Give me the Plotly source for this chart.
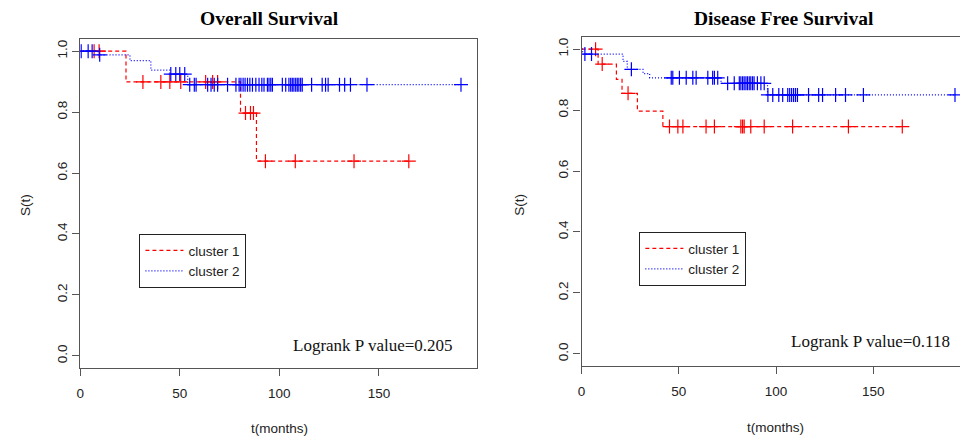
import numpy as np
import plotly.graph_objects as go

# ---------------- data ----------------
# Overall survival
os_c1_times = [0, 23, 80.5, 88.5]
os_c1_surv = [1.0, 0.899, 0.797, 0.639]
os_c1_end = 165
os_c1_censor = [7, 9.5, 31.5, 40.5, 45, 50.5, 63, 66.5, 69, 83, 85.5, 87, 93, 108, 137.5, 165]

os_c2_times = [0, 9, 25, 35.5, 45, 54]
os_c2_surv = [1.0, 0.988, 0.969, 0.938, 0.925, 0.89]
os_c2_end = 191.2
os_c2_censor = [0.5, 4, 6, 9.8, 45.5, 48, 50, 52.5, 55, 57.3, 58.2, 64, 65.7, 67.3, 69, 74,
                78.2, 79.8, 80.7, 81.8, 82.8, 84, 85.2, 86.5, 88.2, 89.8, 91.2, 92.3, 94,
                94.8, 95.7, 96.5, 101.5, 103.2, 104.8, 105.7, 106.5, 107.3, 108.2, 109,
                109.8, 110.7, 111.5, 116.2, 121.5, 123.2, 124.5, 130.2, 132.8, 135.7, 144, 191.2]

# Disease free survival
dfs_c1_times = [0, 8.5, 17.9, 20.8, 28.7, 41.8]
dfs_c1_surv = [1.0, 0.951, 0.901, 0.855, 0.797, 0.746]
dfs_c1_end = 164.9
dfs_c1_censor = [7.2, 10.6, 23.9, 45.2, 49.5, 52.1, 64, 68.3, 81.9, 82.8, 83.6, 87, 93.9,
                 108.5, 137.2, 164.9]

dfs_c2_times = [0, 0.5, 21.3, 23.5, 31.6, 35, 71.7, 95.6]
dfs_c2_surv = [1.0, 0.984, 0.96, 0.934, 0.92, 0.906, 0.888, 0.85]
dfs_c2_end = 192
dfs_c2_censor = [1.7, 5.1, 25.6, 46.1, 46.9, 50.3, 53.8, 57.2, 58.9, 64.9, 67.4, 68.3, 70,
                 75.1, 78.5, 81.1, 81.9, 82.8, 83.6, 84.5, 85.3, 86.2, 87, 87.9, 88.7, 90.4,
                 92.2, 93.9, 95.8, 98.3, 101.4, 103.4, 106, 107, 108, 109, 110, 111, 116.7,
                 121.9, 123.9, 130.6, 135.7, 144.9, 192]

series_names = ["cluster 1", "cluster 2"]
x_ticks = [0, 50, 100, 150]
y_ticks = [0.0, 0.2, 0.4, 0.6, 0.8, 1.0]
y_tick_labels = ["0.0", "0.2", "0.4", "0.6", "0.8", "1.0"]
titles = ["Overall Survival", "Disease Free Survival"]
pvalues = ["Logrank P value=0.205", "Logrank P value=0.118"]

# ---------------- figure ----------------
W, H = 960, 437
RED, BLUE = "#ff0000", "#0000ff"
SANS = "Liberation Sans, Arial, sans-serif"
SERIF = "Liberation Serif, Times New Roman, serif"

fig = go.Figure()


def step_eval(times, surv, t):
    idx = np.searchsorted(np.asarray(times), np.asarray(t), side="right") - 1
    return np.asarray(surv)[idx]


def add_km(times, surv, end, censor, color, dash, name, xa, ya, legend):
    fig.add_trace(go.Scatter(
        x=list(times) + [end], y=list(surv) + [surv[-1]],
        mode="lines", line=dict(shape="hv", color=color, width=1.2, dash=dash),
        name=name, xaxis=xa, yaxis=ya, legend=legend, showlegend=True,
        hoverinfo="skip"))
    fig.add_trace(go.Scatter(
        x=censor, y=step_eval(times, surv, censor),
        mode="markers",
        marker=dict(symbol="cross-thin", size=10, color=color,
                    line=dict(color=color, width=1.2)),
        xaxis=xa, yaxis=ya, showlegend=False, hoverinfo="skip"))


DASH1 = "4px,3px"
DASH2 = "1px,2px"
add_km(os_c1_times, os_c1_surv, os_c1_end, os_c1_censor, RED, DASH1, series_names[0], "x", "y", "legend")
add_km(os_c2_times, os_c2_surv, os_c2_end, os_c2_censor, BLUE, DASH2, series_names[1], "x", "y", "legend")
add_km(dfs_c1_times, dfs_c1_surv, dfs_c1_end, dfs_c1_censor, RED, DASH1, series_names[0], "x2", "y2", "legend2")
add_km(dfs_c2_times, dfs_c2_surv, dfs_c2_end, dfs_c2_censor, BLUE, DASH2, series_names[1], "x2", "y2", "legend2")

AX = dict(showgrid=False, zeroline=False, showline=True, linecolor="#555555", linewidth=1.3,
          ticks="outside", ticklen=7, tickcolor="#555555", tickwidth=1,
          tickfont=dict(family=SANS, size=13.5, color="#222222"))

left_x = [76.5 / W, 475 / W]
right_x = [580 / W, 1.0]
left_y = [1 - 368 / H, 1 - 39 / H]
right_y = [1 - 366 / H, 1 - 37 / H]

LEG = dict(xanchor="left", yanchor="top", bordercolor="#222222", borderwidth=1, bgcolor="white",
           itemwidth=38, tracegroupgap=0,
           font=dict(family=SANS, size=13.5, color="#222222"))

fig.update_layout(
    width=W, height=H, margin=dict(l=0, r=0, t=0, b=0),
    paper_bgcolor="white", plot_bgcolor="white",
    xaxis=dict(AX, domain=left_x, range=[0, 199.25], tickvals=x_ticks, anchor="y", mirror=True,
               ticklabelstandoff=6),
    yaxis=dict(AX, domain=left_y, range=[-0.04, 1.04], tickvals=y_ticks, ticktext=y_tick_labels,
               tickangle=-90, anchor="x", mirror=True),
    xaxis2=dict(AX, domain=right_x, range=[0, 380 / 1.953], tickvals=x_ticks, anchor="y2", mirror=True,
                ticklabelstandoff=6),
    yaxis2=dict(AX, domain=right_y, range=[-0.04, 1.04], tickvals=y_ticks, ticktext=y_tick_labels,
                tickangle=-90, anchor="x2", mirror=False),
    legend=dict(LEG, x=136 / W, y=1 - 234 / H),
    legend2=dict(LEG, x=638 / W, y=1 - 232 / H),
)

ann = []
# titles
ann.append(dict(x=266.5 / W, y=1 - 19 / H, text="<b>%s</b>" % titles[0]))
ann.append(dict(x=783 / W, y=1 - 19 / H, text="<b>%s</b>" % titles[1]))
for a in ann:
    a.update(xref="paper", yref="paper", showarrow=False, xanchor="center", yanchor="middle",
             font=dict(family=SERIF, size=19.5, color="#000000"))
# p-values
ann.append(dict(x=453 / W, y=1 - 345 / H, text=pvalues[0], xref="paper", yref="paper",
                showarrow=False, xanchor="right", yanchor="middle",
                font=dict(family=SERIF, size=17, color="#111111")))
ann.append(dict(x=952 / W, y=1 - 341 / H, text=pvalues[1], xref="paper", yref="paper",
                showarrow=False, xanchor="right", yanchor="middle",
                font=dict(family=SERIF, size=17, color="#111111")))
# axis titles
for xc, yc in [(277, 428), (775, 427)]:
    ann.append(dict(x=xc / W, y=1 - yc / H, text="t(months)", xref="paper", yref="paper",
                    showarrow=False, xanchor="center", yanchor="middle",
                    font=dict(family=SANS, size=13.5, color="#222222")))
for xc, yc in [(22, 205), (518, 205)]:
    ann.append(dict(x=xc / W, y=1 - yc / H, text="S(t)", xref="paper", yref="paper",
                    showarrow=False, xanchor="center", yanchor="middle", textangle=-90,
                    font=dict(family=SANS, size=13.5, color="#222222")))
fig.update_layout(annotations=ann)

fig.write_html("out.html", config={"displayModeBar": False},
               post_script="document.body.style.margin='0px';")
